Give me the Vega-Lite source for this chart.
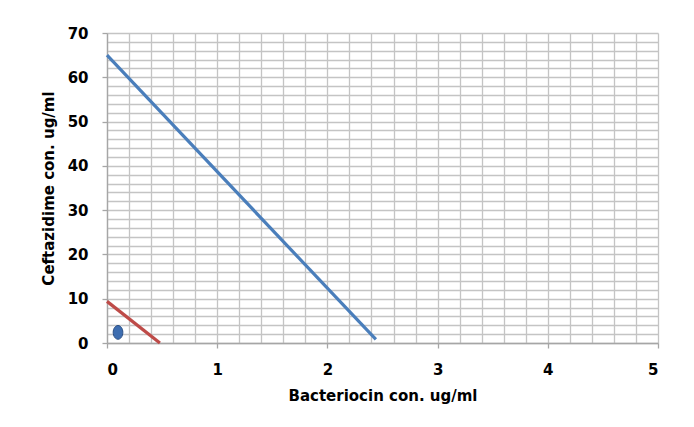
{
  "$schema": "https://vega.github.io/schema/vega-lite/v6.json",
  "width": 551,
  "height": 310,
  "autosize": {"type": "none"},
  "padding": {"left": 107, "top": 33, "right": 36, "bottom": 84},
  "background": "white",
  "config": {
    "view": {"stroke": null},
    "font": "DejaVu Sans",
    "axis": {
      "labelFont": "DejaVu Sans",
      "labelFontWeight": "bold",
      "labelFontSize": 15,
      "labelColor": "#000000",
      "titleFont": "DejaVu Sans",
      "titleFontWeight": "bold",
      "titleFontSize": 15,
      "titleColor": "#000000",
      "gridColor": "#c4c4c4",
      "gridWidth": 1.3,
      "gridOpacity": 1,
      "domainColor": "#a6a6a6",
      "domainWidth": 1.3,
      "tickColor": "#a6a6a6",
      "tickWidth": 1.3,
      "tickSize": 5,
      "labelOverlap": false
    }
  },
  "datasets": {
    "lines": [
      {"series": "A", "x": 0, "y": 65},
      {"series": "A", "x": 2.44, "y": 0.8},
      {"series": "B", "x": 0, "y": 9.4},
      {"series": "B", "x": 0.48, "y": 0}
    ],
    "points": [
      {"x": 0.1, "y": 2.4}
    ]
  },
  "encoding": {
    "x": {
      "field": "x",
      "type": "quantitative",
      "scale": {"domain": [0, 5], "nice": false, "zero": false},
      "axis": {
        "values": [0, 0.2, 0.4, 0.6, 0.8, 1, 1.2, 1.4, 1.6, 1.8, 2, 2.2, 2.4, 2.6, 2.8, 3, 3.2, 3.4, 3.6, 3.8, 4, 4.2, 4.4, 4.6, 4.8, 5],
        "tickCount": 200,
        "labelExpr": "datum.value % 1 === 0 ? format(datum.value, 'd') : ''",
        "tickOpacity": {"condition": {"test": "datum.value % 1 === 0", "value": 1}, "value": 0},
        "labelPadding": 14,
        "titlePadding": 11,
        "title": "Bacteriocin con. ug/ml"
      }
    },
    "y": {
      "field": "y",
      "type": "quantitative",
      "scale": {"domain": [0, 70], "nice": false, "zero": false},
      "axis": {
        "values": [0, 2, 4, 6, 8, 10, 12, 14, 16, 18, 20, 22, 24, 26, 28, 30, 32, 34, 36, 38, 40, 42, 44, 46, 48, 50, 52, 54, 56, 58, 60, 62, 64, 66, 68, 70],
        "tickCount": 200,
        "labelExpr": "datum.value % 10 === 0 ? format(datum.value, 'd') : ''",
        "tickOpacity": {"condition": {"test": "datum.value % 10 === 0", "value": 1}, "value": 0},
        "labelPadding": 14,
        "titlePadding": 11,
        "title": "Ceftazidime con. ug/ml"
      }
    }
  },
  "layer": [
    {
      "data": {"name": "lines"},
      "mark": {"type": "line", "strokeWidth": 3.2, "clip": false},
      "encoding": {
        "color": {
          "field": "series",
          "type": "nominal",
          "scale": {"domain": ["A", "B"], "range": ["#4a7ebb", "#be4b48"]},
          "legend": null
        }
      }
    },
    {
      "data": {"name": "points"},
      "mark": {
        "type": "point",
        "shape": "M -0.7 0 A 0.7 1 0 1 0 0.7 0 A 0.7 1 0 1 0 -0.7 0 Z",
        "filled": true,
        "size": 190,
        "color": "#3d6db0",
        "stroke": "#2a4f85",
        "strokeWidth": 1,
        "opacity": 1
      }
    }
  ]
}
